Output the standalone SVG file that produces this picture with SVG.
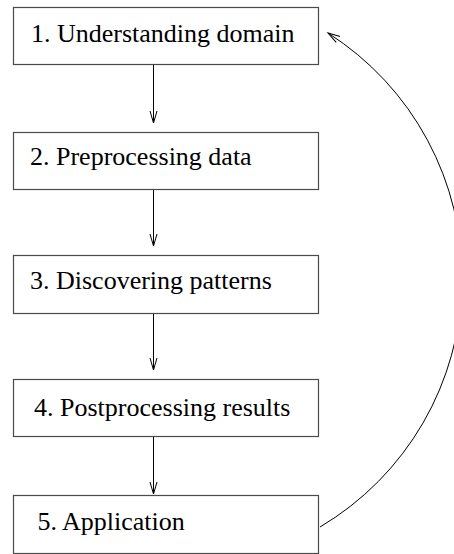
<svg xmlns="http://www.w3.org/2000/svg" width="454" height="554" viewBox="0 0 454 554">
  <defs>
    <marker id="vee" markerUnits="userSpaceOnUse" markerWidth="16" markerHeight="10" refX="12" refY="3.5" orient="auto" overflow="visible">
      <path d="M0,0 L12,3.5 L0,7" fill="none" stroke="#000" stroke-width="1"/>
    </marker>
    <style>
      .box { fill: #fff; stroke: #4a4a4a; stroke-width: 1.2; }
      .lbl { font-family: "Liberation Serif", "Times New Roman", serif; font-size: 26px; fill: #000; }
      .edge { fill: none; stroke: #000; stroke-width: 1; marker-end: url(#vee); }
    </style>
  </defs>
  <rect width="454" height="554" fill="#fff"/>

  <g id="connectors">
    <path class="edge" d="M153.5 65 V123"/>
    <path class="edge" d="M153.5 189.5 V246"/>
    <path class="edge" d="M153.5 313.5 V370"/>
    <path class="edge" d="M153.5 436.5 V494"/>
    <path class="edge" d="M320 527 A290 290 0 0 0 328 33"/>
  </g>

  <g id="step1">
    <rect class="box" x="13.5" y="7.5" width="305" height="57"/>
    <text class="lbl" x="31" y="42">1. Understanding domain</text>
  </g>
  <g id="step2">
    <rect class="box" x="13.5" y="132.5" width="305" height="57"/>
    <text class="lbl" x="30" y="165">2. Preprocessing data</text>
  </g>
  <g id="step3">
    <rect class="box" x="13.5" y="255.5" width="305" height="58"/>
    <text class="lbl" x="30" y="288.5">3. Discovering patterns</text>
  </g>
  <g id="step4">
    <rect class="box" x="13.5" y="379.5" width="305" height="57"/>
    <text class="lbl" x="34" y="416">4. Postprocessing results</text>
  </g>
  <g id="step5">
    <rect class="box" x="13.5" y="495.5" width="305" height="58"/>
    <text class="lbl" x="37.5" y="529.5">5. Application</text>
  </g>
</svg>
